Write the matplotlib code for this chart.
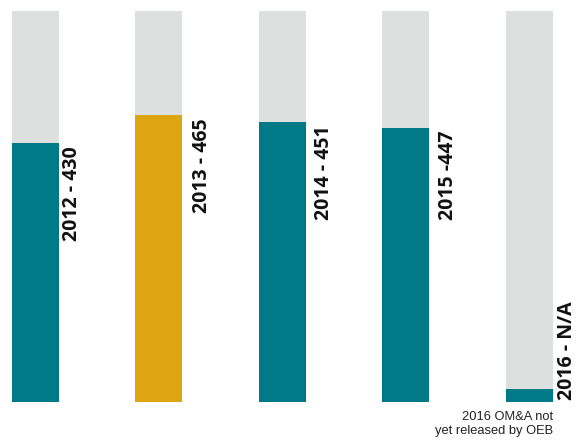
import matplotlib
matplotlib.use("Agg")
import matplotlib.pyplot as plt

# values (bar heights as % of the grey background bar)
years = ["2012", "2013", "2014", "2015", "2016"]
labels = ["2012 - 430", "2013 - 465", "2014 - 451", "2015 -447", "2016 - N/A"]
heights = [66.2, 73.4, 71.6, 70.1, 3.3]
full = [100, 100, 100, 100, 100]
colors = ["#007a87", "#dda512", "#007a87", "#007a87", "#007a87"]
note = "2016 OM&A not\nyet released by OEB"

W, H = 582, 441
fig = plt.figure(figsize=(W / 100, H / 100), dpi=100)
ax = fig.add_axes([0, 0, 1, 1])

step = 123.5          # px between bar centres
first = 35.5          # px centre of first bar
width = 47 / step
ax.set_xlim(-first / step, (W - first) / step)
ppu = 391 / 100       # px per unit
ax.set_ylim(-39 / ppu, 100 + 11 / ppu)
ax.axis("off")

x = list(range(len(years)))
ax.bar(x, full, width=width, color="#dedfdf", linewidth=0)
ax.bar(x, heights, width=width, color=colors, linewidth=0)

# label offsets in px from the bar's right edge
offs = [3, 10, 8, 9, 4]
for i, (h, lab) in enumerate(zip(heights, labels)):
    xr = i + width / 2 + offs[i] / step
    if i < 4:
        ax.text(xr, h - 3 / ppu, lab, rotation=90, ha="left", va="top",
                fontsize=14, fontweight="bold", family="Open Sans", color="#111111")
    else:
        ax.text(xr, 2 / ppu, lab, rotation=90, ha="left", va="bottom",
                fontsize=14, fontweight="bold", family="Open Sans", color="#111111")

fig.text(553 / W, 1 - 411 / H, note, ha="right", va="top", fontsize=9.3,
         family="Liberation Sans", color="#222222", linespacing=1.25)

fig.savefig("out.png", dpi=100)
